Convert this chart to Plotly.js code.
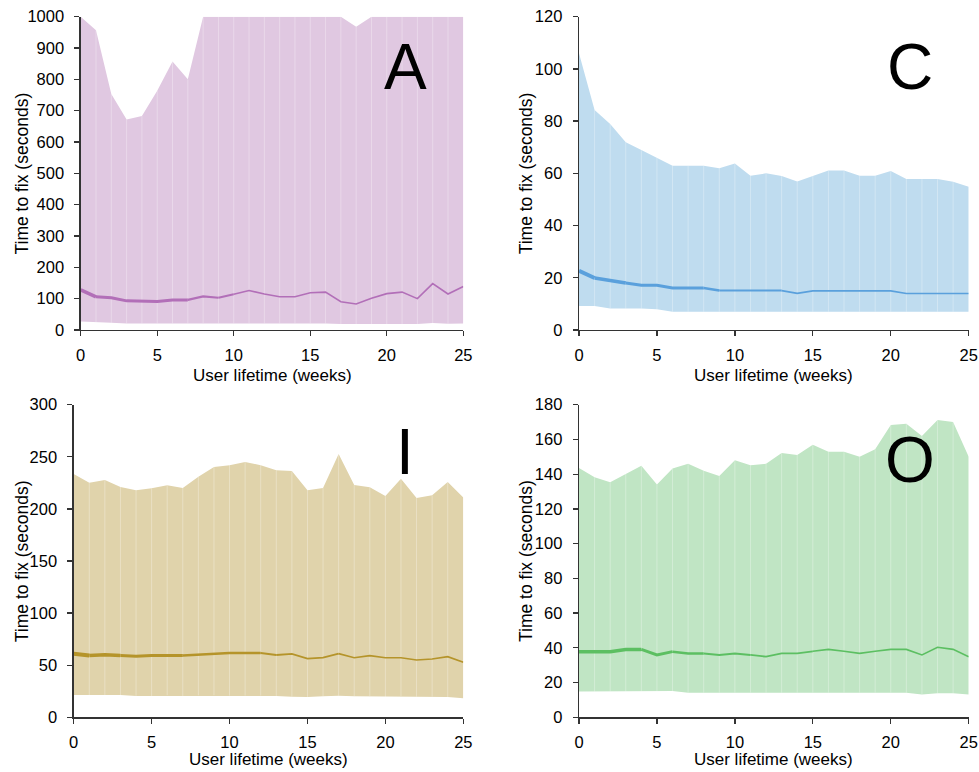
<!DOCTYPE html>
<html>
<head>
<meta charset="utf-8">
<script src="https://cdn.plot.ly/plotly-3.0.1.min.js"></script>
<style>html,body{margin:0;padding:0;background:#fff;}#chart{width:979px;height:772px;}</style>
</head>
<body>
<div id="chart"></div>
<script>
// ---- data ----
const weeks = [0,1,2,3,4,5,6,7,8,9,10,11,12,13,14,15,16,17,18,19,20,21,22,23,24,25];

const upperA  = [1000,957,753,672,683,764,857,800,1000,1000,1000,1000,1000,1000,1000,1000,1000,1000,968,1000,1000,1000,1000,1000,1000,1000];
const medianA = [128,106,103,93,91,91,96,96,107,103,114,126,115,106,106,119,121,90,83,101,116,121,100,148,115,139];
const lowerA  = [27,24,23,21,21,21,21,21,22,21,21,21,21,21,21,21,21,19,18,19,19,19,19,22,20,21];

const upperC  = [106,84.3,78.9,71.9,68.9,66,62.9,62.9,62.9,62,63.8,59.1,60,59,56.9,59,61.1,61.1,59.1,59.1,60.9,57.8,57.8,57.8,56.8,54.9];
const medianC = [22.7,19.9,18.9,18,17.1,17.1,16.1,16.1,16.1,15.1,15.1,15.1,15.1,15.1,14,15,15,15,15,15,15,14,14,14,14,14];
const lowerC  = [9.2,9.2,8.2,8.2,8.2,7.9,7,7,7,7,7,7,7,7,7,7,7,7,7,7,7,7,7,7,7,7];

const upperI  = [233.5,225,227.7,221,218,219.7,222.6,220,230.9,240.2,242,245,242,237,236.3,218,220,252.6,222.9,220.7,212.3,229,210.4,213,225.8,211];
const medianI = [61,59.2,60.1,59.2,58.5,59.2,59.2,59.2,60.1,61.1,61.7,61.7,61.7,59.8,60.8,56.3,57.2,61.1,57.2,59.2,57.2,57.2,55,56,58.2,52.8];
const lowerI  = [21.4,21.4,21.4,21.4,20.5,20.5,21.1,20.5,21.1,21.1,20.8,20.8,20.8,20.5,19.8,19.5,20.2,20.8,20.2,20.2,19.5,20.2,19.8,19.8,19.5,18.2];

const upperO  = [143.5,138.2,135.3,140.3,144.9,134.1,143.2,146,142,138.9,148,145.1,146,152.2,151,157,152.9,152.9,150,154.3,168.3,169.1,162,171.2,170,150];
const medianO = [37.8,37.8,37.8,39.1,39.1,35.9,37.8,36.8,36.8,35.9,36.8,35.9,34.9,36.8,36.8,38,39.1,38,36.8,38,39.1,39.1,35.9,40.3,39.1,34.9];
const lowerO  = [14.8,14.8,14.8,14.8,14.8,15.2,15.2,14.2,14.2,14.2,14.2,14.2,14.2,14.2,14.2,14.2,14.2,14.2,14.2,14.2,14.2,14.2,13.2,13.8,13.8,13.2];

const panelLabels = ["A","C","I","O"];
const yRanges = [[0,1000],[0,120],[0,300],[0,180]];
const yDticks = [100,20,50,20];

// ---- styles ----
const fills = ["#e0c8e1","#bfdcef","#e0d3ab","#c0e5c4"];
const lines = ["#b26fb8","#5aa0dc","#b5942a","#5cbf62"];
// median line width per segment (style)
const widthsA = [3.5,3,3,3,3,3,3,2.2,2.2,2,1.6,1.6,1.6,1.6,1.6,1.6,1.6,1.6,1.6,1.6,1.6,1.6,1.6,1.6,1.6];
const widthsC = [4,3.5,3.5,3,3,3,3,3,2.5,2,2,2,2,1.8,1.8,1.8,1.8,1.6,1.6,1.6,1.6,1.6,1.6,1.6,1.6];
const widthsI = [4,3.5,3.5,3,3,3,3,2.5,2.5,2.5,2.5,2.5,2,1.8,1.8,1.8,1.8,1.6,1.6,1.6,1.6,1.6,1.6,1.6,1.6];
const widthsO = [3.5,3.5,3.5,3.5,3,3,2.5,2.5,2,2,2,1.8,1.8,1.8,1.8,1.6,1.6,1.6,1.6,1.6,1.6,1.6,1.6,1.6,1.6];

const W = 979, H = 772;
// plot area pixel boxes [x0, x1, yTop, yBottom]
const boxes = [
  [80.7, 463.3, 16.7, 330],
  [579, 968.7, 16.7, 330],
  [73.7, 463.3, 404.7, 717.3],
  [579, 968.7, 404.7, 717.3]
];
const xTitleOffset = [46, 46, 42, 42];
const labelPos = [[405,67],[910,67],[405,452],[910,460]];

const panels = [
  {u: upperA, m: medianA, l: lowerA, w: widthsA},
  {u: upperC, m: medianC, l: lowerC, w: widthsC},
  {u: upperI, m: medianI, l: lowerI, w: widthsI},
  {u: upperO, m: medianO, l: lowerO, w: widthsO}
];

const font = "Liberation Sans, Arial, sans-serif";
const traces = [];
const layout = {
  width: W, height: H,
  margin: {l:0, r:0, t:0, b:0},
  paper_bgcolor: "#fff", plot_bgcolor: "rgba(0,0,0,0)",
  showlegend: false,
  font: {family: font, size: 17, color: "#000"},
  annotations: []
};

panels.forEach((p, k) => {
  const ax = k === 0 ? "" : String(k+1);
  const xa = "x" + ax, ya = "y" + ax;
  // band
  traces.push({x: weeks, y: p.l, xaxis: xa, yaxis: ya, mode: "lines", line: {width: 0, color: fills[k]}, hoverinfo: "skip"});
  traces.push({x: weeks, y: p.u, xaxis: xa, yaxis: ya, mode: "lines", line: {width: 0, color: fills[k]}, fill: "tonexty", fillcolor: fills[k], hoverinfo: "skip"});
  // faint seams in the band
  const sx = [], sy = [];
  weeks.forEach((wk, i) => {
    if (i === 0 || i === weeks.length-1) return;
    sx.push(wk, wk, null);
    sy.push(p.l[i], Math.min(p.u[i], yRanges[k][1]), null);
  });
  traces.push({x: sx, y: sy, xaxis: xa, yaxis: ya, mode: "lines", line: {width: 1, color: "rgba(255,255,255,0.3)"}, hoverinfo: "skip"});
  // median, grouped by segment width
  let start = 0;
  for (let i = 1; i <= p.w.length; i++) {
    if (i === p.w.length || p.w[i] !== p.w[start]) {
      traces.push({
        x: weeks.slice(start, i+1), y: p.m.slice(start, i+1),
        xaxis: xa, yaxis: ya, mode: "lines",
        line: {width: p.w[start], color: lines[k]}, hoverinfo: "skip"
      });
      start = i;
    }
  }
  const b = boxes[k];
  const common = {
    showline: true, linecolor: "#333", linewidth: 1.3,
    ticks: "outside", ticklen: 5, tickwidth: 1.3, tickcolor: "#333",
    showgrid: false, zeroline: false, fixedrange: true,
    tickfont: {family: font, size: 16.5, color: "#000"}
  };
  layout["xaxis" + ax] = Object.assign({}, common, {
    domain: [b[0]/W, b[1]/W], anchor: ya, range: [0,25], dtick: 5, tick0: 0,
    ticklabelstandoff: 5
  });
  layout["yaxis" + ax] = Object.assign({}, common, {
    domain: [1 - b[3]/H, 1 - b[2]/H], anchor: xa, range: yRanges[k], dtick: yDticks[k], tick0: 0,
    ticklabelstandoff: 7
  });
  // axis titles
  layout.annotations.push({
    text: "User lifetime (weeks)", xref: "paper", yref: "paper",
    x: ((b[0]+b[1])/2)/W, y: 1 - (b[3]+xTitleOffset[k])/H, xanchor: "center", yanchor: "middle",
    showarrow: false, font: {family: font, size: 17, color: "#000"}
  });
  layout.annotations.push({
    text: "Time to fix (seconds)", xref: "paper", yref: "paper",
    x: (b[0] - (k % 2 === 0 ? (k===0?58.5:51.5) : 53))/W, y: 1 - ((b[2]+b[3])/2)/H,
    xanchor: "center", yanchor: "middle", textangle: -90,
    showarrow: false, font: {family: font, size: 17.5, color: "#000"}
  });
  // big panel letter
  layout.annotations.push({
    text: panelLabels[k], xref: "paper", yref: "paper",
    x: labelPos[k][0]/W, y: 1 - labelPos[k][1]/H, xanchor: "center", yanchor: "middle",
    showarrow: false, font: {family: font, size: 64, color: "#000"}
  });
});

Plotly.newPlot("chart", traces, layout, {displayModeBar: false, staticPlot: true});
</script>
</body>
</html>
